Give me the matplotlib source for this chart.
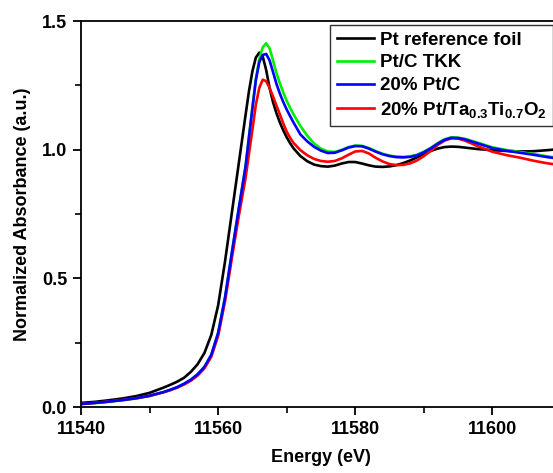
"XANES Pt L3 edge plot"
import matplotlib
matplotlib.use('Agg')
from matplotlib import pyplot as plt
from matplotlib.ticker import MultipleLocator, FormatStrFormatter

plt.rcParams['font.family'] = 'Liberation Sans'
plt.rcParams['font.weight'] = 'bold'
plt.rcParams['mathtext.fontset'] = 'custom'
plt.rcParams['mathtext.rm'] = 'Liberation Sans:bold'
plt.rcParams['mathtext.it'] = 'Liberation Sans:bold'
plt.rcParams['mathtext.bf'] = 'Liberation Sans:bold'

energy = [11540, 11542, 11544, 11546, 11548, 11550, 11552, 11553, 11554, 11555,
          11556, 11557, 11558, 11559, 11560, 11561, 11562, 11563, 11564, 11564.5,
          11565, 11565.5, 11566, 11566.5, 11567, 11567.5, 11568, 11568.5, 11569, 11569.5,
          11570, 11570.5, 11571, 11572, 11573, 11574, 11575, 11576, 11577, 11578,
          11579, 11580, 11581, 11582, 11583, 11584, 11585, 11586, 11587, 11588,
          11589, 11590, 11591, 11592, 11593, 11594, 11595, 11596, 11598, 11600,
          11602, 11604, 11606, 11608, 11610]

pt_foil = [0.016, 0.020, 0.026, 0.033, 0.042, 0.055, 0.075, 0.086, 0.098, 0.113,
           0.136, 0.166, 0.210, 0.280, 0.395, 0.565, 0.755, 0.945, 1.135, 1.228,
           1.305, 1.358, 1.377, 1.362, 1.310, 1.240, 1.185, 1.142, 1.106, 1.075,
           1.048, 1.025, 1.005, 0.975, 0.955, 0.942, 0.936, 0.934, 0.938, 0.946,
           0.952, 0.952, 0.946, 0.939, 0.934, 0.933, 0.935, 0.940, 0.948, 0.958,
           0.970, 0.983, 0.995, 1.004, 1.010, 1.012, 1.011, 1.008, 1.002, 0.998,
           0.995, 0.993, 0.994, 0.998, 1.003]

pt_tkk = [0.011, 0.015, 0.020, 0.026, 0.033, 0.043, 0.057, 0.066, 0.076, 0.089,
          0.105, 0.126, 0.155, 0.202, 0.288, 0.425, 0.600, 0.770, 0.935, 1.050,
          1.165, 1.275, 1.352, 1.398, 1.413, 1.394, 1.347, 1.298, 1.258, 1.222,
          1.190, 1.162, 1.137, 1.092, 1.054, 1.024, 1.004, 0.993, 0.991, 0.999,
          1.010, 1.016, 1.015, 1.006, 0.994, 0.984, 0.977, 0.973, 0.972, 0.974,
          0.980, 0.992, 1.007, 1.025, 1.040, 1.048, 1.047, 1.042, 1.026, 1.009,
          0.999, 0.991, 0.983, 0.974, 0.967]

pt_c = [0.012, 0.016, 0.021, 0.027, 0.034, 0.044, 0.058, 0.067, 0.077, 0.090,
        0.106, 0.127, 0.156, 0.203, 0.288, 0.425, 0.600, 0.770, 0.935, 1.050,
        1.160, 1.270, 1.340, 1.368, 1.372, 1.347, 1.302, 1.256, 1.218, 1.185,
        1.156, 1.130, 1.105, 1.059, 1.032, 1.011, 0.996, 0.987, 0.988, 0.997,
        1.008, 1.014, 1.013, 1.004, 0.992, 0.982, 0.975, 0.971, 0.970, 0.972,
        0.978, 0.990, 1.005, 1.023, 1.038, 1.046, 1.045, 1.040, 1.023, 1.006,
        0.996, 0.988, 0.980, 0.971, 0.964]

pt_tato = [0.012, 0.016, 0.021, 0.027, 0.034, 0.043, 0.057, 0.065, 0.075, 0.087,
           0.102, 0.122, 0.150, 0.195, 0.276, 0.410, 0.578, 0.740, 0.890, 0.985,
           1.078, 1.175, 1.240, 1.272, 1.266, 1.240, 1.207, 1.172, 1.137, 1.102,
           1.070, 1.046, 1.026, 0.998, 0.978, 0.964, 0.956, 0.953, 0.956, 0.966,
           0.980, 0.993, 0.995, 0.985, 0.968, 0.954, 0.944, 0.940, 0.941, 0.947,
           0.958, 0.975, 0.995, 1.018, 1.035, 1.044, 1.043, 1.035, 1.012, 0.992,
           0.979, 0.969, 0.957, 0.947, 0.940]

fig = plt.figure(figsize=(5.53, 4.73), dpi=100)
ax = fig.add_axes([81/553, 66/473, 480/553, 386/473])

lw = 1.9
l_foil, = ax.plot(energy, pt_foil, color='black', lw=lw, label='Pt reference foil')
l_tkk, = ax.plot(energy, pt_tkk, color='#00ee00', lw=lw, label='Pt/C TKK')
l_tato, = ax.plot(energy, pt_tato, color='#ff0000', lw=lw,
                  label=r'20% Pt/Ta$_{0.3}$Ti$_{0.7}$O$_{2}$')
l_c, = ax.plot(energy, pt_c, color='#0000ff', lw=lw, label='20% Pt/C')

ax.set_xlim(11540, 11610)
ax.set_ylim(0, 1.5)
ax.xaxis.set_major_locator(MultipleLocator(20))
ax.xaxis.set_minor_locator(MultipleLocator(10))
ax.yaxis.set_major_locator(MultipleLocator(0.5))
ax.yaxis.set_minor_locator(MultipleLocator(0.25))
ax.yaxis.set_major_formatter(FormatStrFormatter('%.1f'))
ax.tick_params(which='major', direction='out', length=6, width=1.3, labelsize=13, pad=4)
ax.tick_params(which='minor', direction='out', length=4, width=1.2)
for s in ax.spines.values():
    s.set_linewidth(1.3)

ax.set_xlabel('Energy (eV)', fontsize=13, fontweight='bold', labelpad=8)
ax.set_ylabel('Normalized Absorbance (a.u.)', fontsize=13, fontweight='bold', labelpad=8)

leg = ax.legend(handles=[l_foil, l_tkk, l_c, l_tato], loc='upper left',
                bbox_to_anchor=(330/553, 1 - 25/473), bbox_transform=fig.transFigure,
                fontsize=13.5, frameon=True, fancybox=False, framealpha=1,
                edgecolor='#333333', handlelength=2.0, handletextpad=0.3,
                labelspacing=0.3, borderpad=0.35, borderaxespad=0)
leg.get_frame().set_linewidth(1.0)

fig.savefig('out.png', dpi=100)
